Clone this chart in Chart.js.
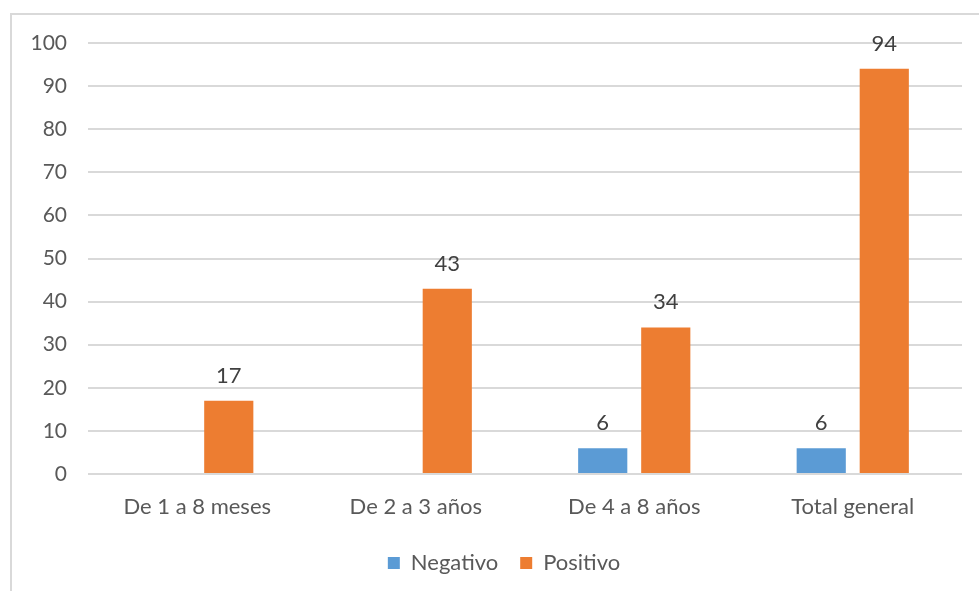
<!DOCTYPE html>
<html>
<head>
<meta charset="utf-8">
<script src="https://cdn.jsdelivr.net/npm/chart.js@4.4.0/dist/chart.umd.min.js"></script>
<style>
    html, body { margin: 0; padding: 0; background: #fff; overflow: hidden; }
    #frame { position: absolute; left: 10px; top: 13px; width: 990px; height: 600px; border: 2px solid #d9d9d9; box-sizing: border-box; }
    #wrap { position: absolute; left: 0; top: 0; width: 979px; height: 591px; }
</style>
</head>
<body>
<div id="frame"></div>
<div id="wrap"><canvas id="chart"></canvas></div>
<script>
// datos
const categorias = ['De 1 a 8 meses', 'De 2 a 3 años', 'De 4 a 8 años', 'Total general'];
const negativo = [null, null, 6, 6];
const positivo = [17, 43, 34, 94];
const yTicks = [0, 10, 20, 30, 40, 50, 60, 70, 80, 90, 100];

const FONT = 'Lato';
const TEXT_COLOR = '#595959';

// etiquetas de datos encima de cada barra
const barLabels = {
    id: 'barLabels',
    afterDatasetsDraw(chart) {
        const ctx = chart.ctx;
        ctx.save();
        ctx.font = `22px ${FONT}`;
        ctx.fillStyle = '#404040';
        ctx.textAlign = 'center';
        ctx.textBaseline = 'alphabetic';
        chart.data.datasets.forEach((ds, i) => {
            const meta = chart.getDatasetMeta(i);
            meta.data.forEach((bar, j) => {
                const v = ds.data[j];
                if (v == null) return;
                ctx.fillText(String(v), bar.x, bar.y - 18);
            });
        });
        ctx.restore();
    }
};

// la leyenda de Excel va centrada en todo el marco, no solo en el área del gráfico
const shiftLegend = {
    id: 'shiftLegend',
    afterUpdate(chart) {
        if (!chart.legend) return;
        chart.legend.left += 23;
        chart.legend.right += 23;
    }
};

new Chart(document.getElementById('chart'), {
    type: 'bar',
    data: {
        labels: categorias,
        datasets: [
            { label: 'Negativo', data: negativo, backgroundColor: '#5b9bd5', categoryPercentage: 0.577, barPercentage: 0.78 },
            { label: 'Positivo', data: positivo, backgroundColor: '#ed7d31', categoryPercentage: 0.577, barPercentage: 0.78 }
        ]
    },
    options: {
        responsive: true,
        maintainAspectRatio: false,
        animation: false,
        layout: { padding: { left: 0, right: 17, top: 43, bottom: 7 } },
        plugins: {
            legend: {
                position: 'bottom',
                labels: { font: { family: FONT, size: 22 }, color: TEXT_COLOR, boxWidth: 12, boxHeight: 12, padding: 22 }
            },
            tooltip: { enabled: false }
        },
        scales: {
            x: {
                grid: { display: false },
                border: { display: false },
                ticks: { font: { family: FONT, size: 22 }, color: TEXT_COLOR, padding: 12 },
                afterFit: s => { s.height = 56; }
            },
            y: {
                min: 0, max: 100,
                afterBuildTicks: s => { s.ticks = yTicks.map(v => ({ value: v })); },
                grid: { color: '#d9d9d9', lineWidth: 2, drawTicks: false },
                border: { display: false },
                ticks: { font: { family: FONT, size: 21 }, color: TEXT_COLOR, padding: 21 },
                afterFit: s => { s.width = 88; }
            }
        }
    },
    plugins: [barLabels, shiftLegend]
});
</script>
</body>
</html>
